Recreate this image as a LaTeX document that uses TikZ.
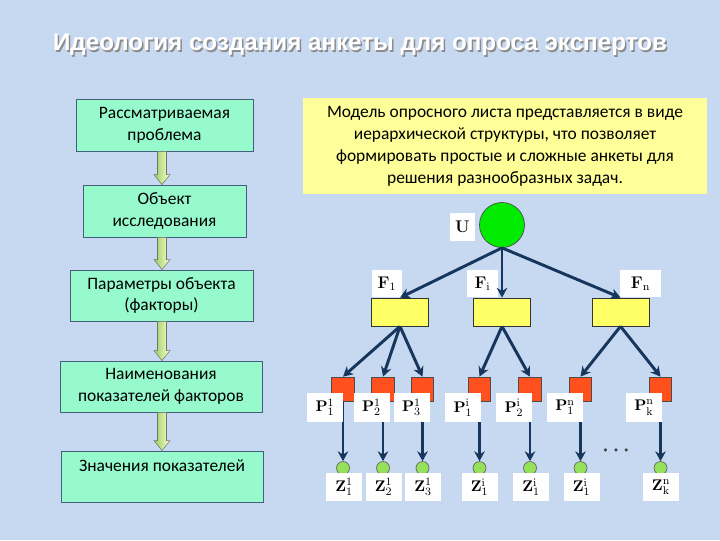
\documentclass[tikz,border=0pt]{standalone}
\usepackage[no-math]{fontspec}
\setmainfont{Carlito}
\newfontfamily\titlefont{Liberation Sans}
\usetikzlibrary{arrows.meta,calc}
\definecolor{bgblue}{RGB}{198,217,241}
\definecolor{stagecyan}{RGB}{150,250,205}
\definecolor{linknavy}{RGB}{23,54,93}
\definecolor{noteyellow}{RGB}{255,255,153}
\definecolor{fyellow}{RGB}{255,255,102}
\definecolor{pred}{RGB}{255,80,30}
\definecolor{ugreen}{RGB}{0,235,0}
\definecolor{zgreen}{RGB}{150,225,90}
\definecolor{arrgreen}{RGB}{150,205,100}
\definecolor{arrcream}{RGB}{255,255,205}
\begin{document}
\begin{tikzpicture}[x=0.025cm, y=-0.025cm,
  every node/.style={font=\fontsize{12.4}{15.6}\selectfont},
  stage/.style={draw=linknavy!80, line width=0.6pt, fill=stagecyan, align=center, inner sep=2pt},
  lbl/.style={fill=white, inner sep=0pt, minimum width=0.9cm, minimum height=0.72cm, font=\fontsize{11}{12}\selectfont},
  fbox/.style={draw=black!80, line width=0.5pt, fill=fyellow, minimum width=1.425cm, minimum height=0.7cm},
  pbox/.style={draw=black!70, line width=0.5pt, fill=pred, minimum width=0.56cm, minimum height=0.6cm},
  zdot/.style={circle, draw=black!60, line width=0.5pt, fill=zgreen, minimum size=0.325cm, inner sep=0pt},
  link/.style={-{Stealth[length=7pt,width=7.5pt]}, line width=2.1pt, linknavy},
  barrow/.style={left color=arrgreen, right color=arrcream, draw=black!55, line width=0.4pt}]
\path[fill=bgblue] (0,0) rectangle (720,540);
% title with shadow
\node[font=\titlefont\bfseries\fontsize{17.2}{20}\selectfont, text=black!45] (titleshadow) at (361.5,46.5) {Идеология создания анкеты для опроса экспертов};
\node[font=\titlefont\bfseries\fontsize{17.2}{20}\selectfont, text=white] (title) at (360,45) {Идеология создания анкеты для опроса экспертов};
% left column
\node[stage, minimum width=4.425cm, minimum height=1.3cm] (problem) at (164.5,125) {Рассматриваемая\\проблема};
\node[stage, minimum width=4.075cm, minimum height=1.3cm] (object) at (164.5,211) {Объект\\исследования};
\node[stage, minimum width=4.575cm, minimum height=1.275cm] (params) at (161.5,295.5) {Параметры объекта\\(факторы)};
\node[stage, minimum width=5.05cm, minimum height=1.275cm] (names) at (161,386.5) {Наименования\\показателей факторов};
\node[stage, minimum width=5.05cm, minimum height=1.275cm] (values) at (162,476.5) {Значения показателей\\~};
\coordinate (axis) at (162,0);
\foreach \a/\b in {problem/object, object/params, params/names, names/values}
  \shadedraw[barrow] ($(axis |- \a.south)+(-4.5,0)$) -- ($(axis |- \a.south)+(4.5,0)$)
    -- ($(axis |- \b.north)+(4.5,-10)$) -- ($(axis |- \b.north)+(8,-10)$) -- (axis |- \b.north)
    -- ($(axis |- \b.north)+(-8,-10)$) -- ($(axis |- \b.north)+(-4.5,-10)$) -- cycle;
% note
\node[fill=noteyellow, minimum width=10.1cm, minimum height=2.4cm, align=center] (note) at (505,146) {Модель опросного листа представляется в виде\\иерархической структуры, что позволяет\\формировать простые и сложные анкеты для\\решения разнообразных задач.};
% tree
\node[circle, draw=black!70, line width=0.5pt, fill=ugreen, minimum size=1.125cm, inner sep=0pt] (u) at (502,225) {};
\node[lbl, minimum width=0.625cm, minimum height=0.7cm, font=\fontsize{11.5}{12}\selectfont] (ulbl) at (462.5,227) {$\mathbf{U}$};
\node[fbox] (f1) at (400,312) {};
\node[fbox] (fi) at (502,312) {};
\node[fbox] (fn) at (620.5,312) {};
\node[lbl, minimum width=0.75cm, minimum height=0.675cm, font=\fontsize{11.5}{12}\selectfont] (f1lbl) at (387,283.5) {$\mathbf{F}_{1}$};
\node[lbl, minimum width=0.775cm, minimum height=0.675cm, font=\fontsize{11.5}{12}\selectfont] (filbl) at (482.5,283.5) {$\mathbf{F}_{\mathrm{i}}$};
\node[lbl, minimum width=1.025cm, minimum height=0.675cm, font=\fontsize{11.5}{12}\selectfont] (fnlbl) at (640.5,283.5) {$\mathbf{F}_{\mathrm{n}}$};
\draw[link] (u.south) -- (f1.north);
\draw[link] (u.south) -- (fi.north);
\draw[link] (u.south) -- (fn.north);
% factors -> indicators
\node[pbox] (p1) at (343,389) {};
\node[pbox] (p2) at (383,389) {};
\node[pbox] (p3) at (422.5,389) {};
\node[pbox] (p4) at (479.5,389) {};
\node[pbox] (p5) at (530,389) {};
\node[pbox] (p6) at (580.5,389) {};
\node[pbox] (p7) at (660.5,389) {};
\draw[link] (f1.south) -- (p1.north);
\draw[link] (f1.south) -- (p2.north);
\draw[link] (f1.south) -- (p3.north);
\draw[link] (fi.south) -- (p4.north);
\draw[link] (fi.south) -- (p5.north);
\draw[link] (fn.south) -- (p6.north);
\draw[link] (fn.south) -- (p7.north);
\node[zdot] (z1) at (343,468) {};
\node[zdot] (z2) at (383,468) {};
\node[zdot] (z3) at (422.5,468) {};
\node[zdot] (z4) at (479.5,468) {};
\node[zdot] (z5) at (530,468) {};
\node[zdot] (z6) at (580.5,468) {};
\node[zdot] (z7) at (660.5,468) {};
\draw[link] (p1.south) -- (z1.north);
\draw[link] (p2.south) -- (z2.north);
\draw[link] (p3.south) -- (z3.north);
\draw[link] (p4.south) -- (z4.north);
\draw[link] (p5.south) -- (z5.north);
\draw[link] (p6.south) -- (z6.north);
\draw[link] (p7.south) -- (z7.north);
\node[lbl] (p1lbl) at (325,407.5) {$\mathbf{P}_1^{1}$};
\node[lbl] (p2lbl) at (371.5,407.5) {$\mathbf{P}_2^{1}$};
\node[lbl] (p3lbl) at (411.5,407.5) {$\mathbf{P}_3^{1}$};
\node[lbl] (p4lbl) at (463,407.5) {$\mathbf{P}_1^{\mathrm{i}}$};
\node[lbl] (p5lbl) at (514,407.5) {$\mathbf{P}_2^{\mathrm{i}}$};
\node[lbl] (p6lbl) at (565,407.5) {$\mathbf{P}_1^{\mathrm{n}}$};
\node[lbl] (p7lbl) at (644,407.5) {$\mathbf{P}_{\mathrm{k}}^{\mathrm{n}}$};
\node[lbl, minimum height=0.7cm] (z1lbl) at (344,487) {$\mathbf{Z}_1^{1}$};
\node[lbl, minimum height=0.7cm] (z2lbl) at (383.5,487) {$\mathbf{Z}_2^{1}$};
\node[lbl, minimum height=0.7cm] (z3lbl) at (423,487) {$\mathbf{Z}_3^{1}$};
\node[lbl, minimum height=0.7cm] (z4lbl) at (479.5,487) {$\mathbf{Z}_1^{\mathrm{i}}$};
\node[lbl, minimum height=0.7cm] (z5lbl) at (531,487) {$\mathbf{Z}_1^{\mathrm{i}}$};
\node[lbl, minimum height=0.7cm] (z6lbl) at (581.5,487) {$\mathbf{Z}_1^{\mathrm{i}}$};
\node[lbl, minimum height=0.7cm] (z7lbl) at (661,487) {$\mathbf{Z}_{\mathrm{k}}^{\mathrm{n}}$};
\node[text=black!75, font=\boldmath\fontsize{15}{15}\selectfont] (dots) at (616,451) {$\cdots$};
\end{tikzpicture}
\end{document}
